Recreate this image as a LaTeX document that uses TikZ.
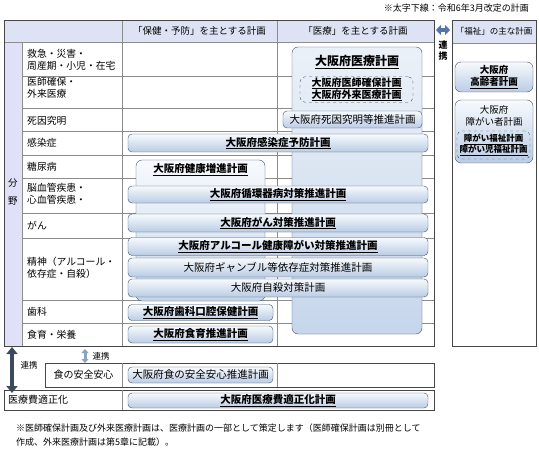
\documentclass[tikz,border=0pt]{standalone}
\usepackage{fontspec}
\setmainfont{Noto Sans CJK JP}
\definecolor{hdcol}{RGB}{221,227,244}
\definecolor{fycol}{RGB}{224,224,248}
\definecolor{bdcol}{RGB}{64,82,106}
\definecolor{barlo}{RGB}{186,204,228}
\definecolor{barhi}{RGB}{247,250,253}
\definecolor{talcol}{RGB}{198,214,235}
\definecolor{lncol}{RGB}{140,140,140}
\definecolor{frcol}{RGB}{70,70,70}
\definecolor{lkdark}{RGB}{60,74,94}
\definecolor{lkmid}{RGB}{80,118,166}
\definecolor{lklight}{RGB}{140,164,192}
\usetikzlibrary{positioning, arrows.meta}
\newcommand{\ubf}[1]{\textbf{\underline{#1}}}

\begin{document}
\begin{tikzpicture}[x=1pt, y=-1pt,
  bar/.style={draw=bdcol, rounded corners=4pt, top color=barhi, bottom color=barlo, inner sep=0pt, font=\fontsize{10.5}{12}\selectfont},
  tallbox/.style={draw=bdcol, rounded corners=6pt, inner sep=0pt},
  dashbox/.style={draw=bdcol, dashed, rounded corners=5pt, align=center, inner sep=1pt},
  cat/.style={anchor=west, align=left, inner sep=0pt, font=\fontsize{9.8}{12}\selectfont},
  hd/.style={font=\fontsize{9.5}{11}\selectfont},
  fnote/.style={anchor=west, inner sep=0pt, font=\fontsize{9}{11}\selectfont},
  tblline/.style={draw=lncol, line width=0.6pt},
  tblframe/.style={draw=frcol, line width=0.8pt},
  lk/.style={font=\fontsize{8.5}{10}\selectfont, inner sep=0pt}]
\useasboundingbox (0,0) rectangle (539,452);
\fill[white] (0,0) rectangle (539,452);

% note
\node[fnote, anchor=east] (topnote) at (529,8) {※太字下線：令和6年3月改定の計画};

% main table
\fill[hdcol] (4,20) rectangle (434,42);
\fill[fycol] (4,42) rectangle (22,346);
\foreach \y in {76,108,131,155,178,213,238,300,323}
  \draw[tblline] (22,\y) -- (434,\y);
\draw[tblline] (22,42) -- (22,346);
\draw[tblline] (122,20) -- (122,346);
\draw[tblline] (277,20) -- (277,346);
\draw[tblline] (4,42) -- (434,42);
\draw[tblframe] (4,20) rectangle (434,346);

\node[hd] (hdhk) at (199.5,31) {「保健・予防」を主とする計画};
\node[hd] (hdir) at (355.5,31) {「医療」を主とする計画};

\node[hd] (bun) at (13,183) {分};
\node[hd] (ya) at (13,201) {野};

\node[cat] (c1) at (27,60) {救急・災害・\\周産期・小児・在宅};
\node[cat] (c2) at (27,88) {医師確保・\\外来医療};
\node[cat] (c3) at (27,121) {死因究明};
\node[cat] (c4) at (27,143) {感染症};
\node[cat] (c5) at (27,167) {糖尿病};
\node[cat] (c6) at (27,194) {脳血管疾患・\\心血管疾患・};
\node[cat] (c7) at (27,226) {がん};
\node[cat] (c8) at (27,268) {精神（アルコール・\\依存症・自殺）};
\node[cat] (c9) at (27,312) {歯科};
\node[cat] (c10) at (27,335) {食育・栄養};

% tall plans
\node[tallbox, top color=barhi, bottom color=talcol, minimum width=129pt, minimum height=141pt] (kenko) at (200.5,230.5) {};
\node[font=\fontsize{10.5}{12}\selectfont] (kenkot) at (200.5,170) {\ubf{大阪府健康増進計画}};
\node[tallbox, top color=white!65!talcol, bottom color=talcol, minimum width=130pt, minimum height=287pt] (iryo) at (357,190.5) {};
\node[font=\fontsize{12}{14}\selectfont] (iryot) at (357,62) {\ubf{大阪府医療計画}};
\node[dashbox, minimum width=113pt, minimum height=25pt, font=\fontsize{10}{12}\selectfont] (ishi) at (356.5,89.5) {\ubf{大阪府医師確保計画}\\\ubf{大阪府外来医療計画}};

% bars
\node[bar, minimum width=139pt, minimum height=17pt] (shiin) at (352.5,119.5) {大阪府死因究明等推進計画};
\node[bar, minimum width=300pt, minimum height=18pt] (kansen) at (278,143) {\ubf{大阪府感染症予防計画}};
\node[bar, minimum width=300pt, minimum height=17pt] (junkan) at (278,194.5) {\ubf{大阪府循環器病対策推進計画}};
\node[bar, minimum width=300pt, minimum height=18pt] (gan) at (278,223) {\ubf{大阪府がん対策推進計画}};
\node[bar, minimum width=300pt, minimum height=18pt] (alc) at (278,246.5) {\ubf{大阪府アルコール健康障がい対策推進計画}};
\node[bar, minimum width=300pt, minimum height=19pt] (gamb) at (278,267.5) {大阪府ギャンブル等依存症対策推進計画};
\node[bar, minimum width=300pt, minimum height=18pt] (jisatsu) at (278,288) {大阪府自殺対策計画};
\node[bar, minimum width=145pt, minimum height=16pt] (shika) at (200.5,312.5) {\ubf{大阪府歯科口腔保健計画}};
\node[bar, minimum width=145pt, minimum height=17pt] (shokuiku) at (200.5,334.5) {\ubf{大阪府食育推進計画}};

% welfare
\fill[hdcol] (452,20) rectangle (536,43);
\draw[tblline] (452,43) -- (536,43);
\draw[tblframe] (452,20) rectangle (536,346);
\node[font=\fontsize{8.5}{10}\selectfont] (hdfk) at (494,31.5) {「福祉」の主な計画};
\node[bar, rounded corners=6pt, align=center, minimum width=78pt, minimum height=30pt, font=\fontsize{9.5}{12.5}\selectfont] (korei) at (494,77) {\ubf{大阪府}\\\ubf{高齢者計画}};
\node[bar, rounded corners=6pt, minimum width=78pt, minimum height=63pt] (shogai) at (494,131.5) {};
\node[align=center, font=\fontsize{9.5}{12.5}\selectfont] (shogait) at (494,116) {大阪府\\障がい者計画};
\node[dashbox, minimum width=73pt, minimum height=28pt, font=\fontsize{8.5}{11}\selectfont] (fukushi) at (493.5,145) {\ubf{障がい福祉計画}\\\ubf{障がい児福祉計画}};

% renkei
\coordinate (lkC) at (436,30);
\coordinate (lkD) at (450,30);
\draw[line width=3.5pt, lkmid, {Triangle[width=10pt,length=5pt]}-{Triangle[width=10pt,length=5pt]}] (lkC) -- (lkD);
\node[lk, font=\fontsize{9}{10}\selectfont\bfseries] (rk1) at (443,45) {連};
\node[lk, font=\fontsize{9}{10}\selectfont\bfseries] (rk2) at (443,56) {携};

\coordinate (lkA) at (12,347);
\coordinate (lkB) at (12,393);
\draw[line width=4.5pt, lkdark, {Triangle[width=11pt,length=7pt]}-{Triangle[width=11pt,length=7pt]}] (lkA) -- (lkB);
\node[lk] (rk3) at (29,365) {連携};
\coordinate (lkE) at (85,349);
\coordinate (lkF) at (85,363);
\draw[line width=3pt, lklight, {Triangle[width=7pt,length=4pt]}-{Triangle[width=7pt,length=4pt]}] (lkE) -- (lkF);
\node[lk] (rk4) at (101,356) {連携};

% food safety
\draw[tblframe] (45,363) rectangle (434,387);
\draw[tblline] (122,363) -- (122,387);
\draw[tblline] (277,363) -- (277,387);
\node[font=\fontsize{10}{12}\selectfont] (anzen) at (83.5,375) {食の安全安心};
\node[bar, minimum width=145pt, minimum height=16pt] (anzenp) at (200.5,375) {大阪府食の安全安心推進計画};

% medical cost
\draw[tblframe] (4,390) rectangle (434,410);
\draw[tblline] (122,390) -- (122,410);
\node[cat, font=\fontsize{10}{12}\selectfont] (tekisei) at (8,400) {医療費適正化};
\node[bar, minimum width=300pt, minimum height=15pt] (tekiseip) at (278,400.5) {\ubf{大阪府医療費適正化計画}};

% footnote
\node[fnote] (fn1) at (16,428) {※医師確保計画及び外来医療計画は、医療計画の一部として策定します（医師確保計画は別冊として};
\node[fnote] (fn2) at (16,442) {作成、外来医療計画は第5章に記載）。};
\end{tikzpicture}
\end{document}
